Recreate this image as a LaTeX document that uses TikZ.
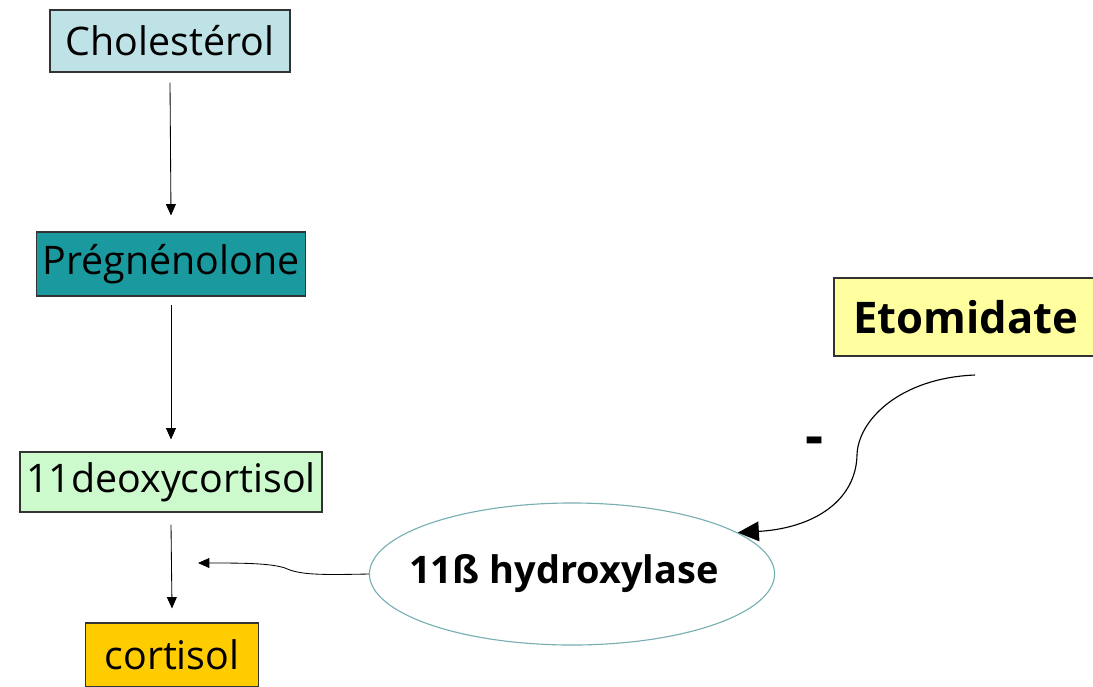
\documentclass[tikz,border=0pt]{standalone}
\usepackage{fontspec}
\setmainfont{Open Sans}
\usetikzlibrary{arrows.meta,shapes.geometric}

\definecolor{cholblue}{RGB}{190,226,230}
\definecolor{pregteal}{RGB}{26,154,158}
\definecolor{deoxygreen}{RGB}{204,250,204}
\definecolor{cortorange}{RGB}{255,204,0}
\definecolor{etomyellow}{RGB}{255,255,160}
\definecolor{ellborder}{RGB}{120,175,178}

\tikzset{
  stepbox/.style={draw=black!80, line width=0.8pt, inner sep=0pt,
    font=\fontsize{28}{32}\selectfont},
  pathway/.style={-{Triangle[width=7pt,length=8pt]}, line width=0.6pt},
  enzyme/.style={ellipse, draw=ellborder, line width=0.8pt, fill=white,
    minimum width=10.125cm, minimum height=3.55cm, inner sep=0pt}
}

\begin{document}
\begin{tikzpicture}[x=0.025cm, y=-0.025cm]
  \useasboundingbox (0,0) rectangle (1093,686);

  % steroid pathway
  \node[stepbox, fill=cholblue, minimum width=6cm, minimum height=1.55cm] (chol) at (170,41) {Cholestérol};
  \node[stepbox, fill=pregteal, minimum width=6.725cm, minimum height=1.6cm] (preg) at (171,264) {Prégnénolone};
  \node[stepbox, fill=deoxygreen, minimum width=7.55cm, minimum height=1.5cm] (deoxy) at (171,482) {11deoxycortisol};
  \node[stepbox, fill=cortorange, minimum width=4.33cm, minimum height=1.6cm] (cort) at (172,655) {cortisol};

  \draw[pathway] ([yshift=-0.25cm]chol.south) -- ([yshift=0.4cm]preg.north);
  \draw[pathway] ([yshift=-0.2cm]preg.south) -- ([yshift=0.3cm]deoxy.north);
  \draw[pathway] ([yshift=-0.3cm]deoxy.south) -- ([yshift=0.35cm]cort.north);

  % enzyme
  \node[enzyme, label={[font=\bfseries\fontsize{27}{32}\selectfont, xshift=-0.2cm]center:11ß hydroxylase}] (hydrox) at (572,574) {};
  \coordinate (catal) at (198,563);
  \draw[pathway]
    (hydrox.west) .. controls (320,575) and (300,575) .. (285,568)
    .. controls (270,563) and (240,563) .. (catal);

  % inhibitor
  \node[stepbox, fill=etomyellow, minimum width=6.6cm, minimum height=1.95cm,
    font=\bfseries\fontsize{31}{38}\selectfont] (etom) at (966,317) {Etomidate};
  \coordinate (etomfoot) at (975,375);
  \draw[-{Triangle[width=14pt,length=15pt]}, line width=0.8pt]
    (etomfoot) .. controls (900,378) and (858,420) .. (857,455)
    .. controls (856,500) and (815,528) .. (hydrox.14);
  \node[font=\bfseries\fontsize{40}{44}\selectfont] (minus) at (815,446) {-};
\end{tikzpicture}
\end{document}
